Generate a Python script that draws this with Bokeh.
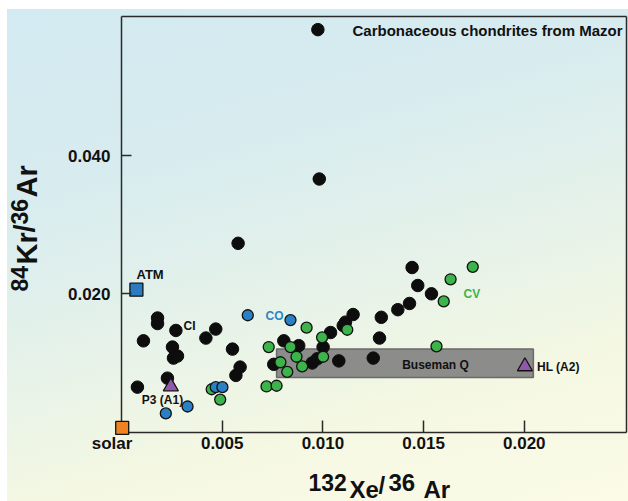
import math
from bokeh.plotting import figure
from bokeh.models import Label, FixedTicker, NumeralTickFormatter, LinearAxis
from bokeh.embed import file_html
from bokeh.resources import INLINE

# 132Xe/36Ar (x) and 84Kr/36Ar (y) for carbonaceous chondrites (Mazor et al.)
black_xe = [0.00975, 0.00982, 0.00579, 0.00179, 0.00179, 0.00270, 0.00468, 0.00419,
            0.00109, 0.00253, 0.00258, 0.00278, 0.00551, 0.00589, 0.00568, 0.00228,
            0.00079, 0.00806, 0.00880, 0.01001, 0.01038, 0.01101, 0.01112, 0.01150,
            0.01079, 0.00947, 0.00972, 0.00756, 0.01250, 0.01281, 0.01290, 0.01372,
            0.01430, 0.01443, 0.01471, 0.01539]
black_kr = [0.0582, 0.0366, 0.0273, 0.0165, 0.0157, 0.0147, 0.0149, 0.0136,
            0.0132, 0.0123, 0.0107, 0.0110, 0.0120, 0.0094, 0.0082, 0.0078,
            0.0065, 0.0132, 0.0125, 0.0123, 0.0144, 0.0154, 0.0159, 0.0170,
            0.0103, 0.0100, 0.0106, 0.0098, 0.0107, 0.0136, 0.0166, 0.0177,
            0.0186, 0.0238, 0.0212, 0.0200]

cv_xe = [0.00919, 0.01121, 0.00996, 0.00839, 0.00731, 0.00869, 0.01001, 0.00897,
         0.00789, 0.00823, 0.00720, 0.00770, 0.01564, 0.01744, 0.01634, 0.01600,
         0.00448, 0.00490]
cv_kr = [0.0151, 0.0148, 0.0137, 0.0123, 0.0123, 0.0109, 0.0109, 0.0095,
         0.0101, 0.0087, 0.0066, 0.0067, 0.0124, 0.0239, 0.0221, 0.0189,
         0.0062, 0.0047]

co_xe = [0.00627, 0.00839, 0.00468, 0.00501, 0.00328, 0.00220]
co_kr = [0.0169, 0.0162, 0.0065, 0.0065, 0.0037, 0.0027]

# reference components
atm_xe, atm_kr = [0.00074], [0.0206]
solar_xe, solar_kr = [0.000035], [0.0006]
p3_xe, p3_kr = [0.00245], [0.0066]
hl_xe, hl_kr = [0.02003], [0.0095]

# Busemann Q-gas field
q_xe = [0.0077, 0.02045]
q_kr = [0.0079, 0.0120]

x_ticks = [0.005, 0.010, 0.015, 0.020]
y_ticks = [0.020, 0.040]

# axis extent of the boxed plot area
X_MAX, Y_MAX = 0.025074, 0.060145

# canvas geometry: pixels per data unit and the pixel position of the origin
W, H = 628, 501
SX, SY = 20140.0, 6915.0
OX, OY = 121.0, 431.6

FONT = "Liberation Sans"
INK = "#2a2a2a"

p = figure(width=W, height=H,
           x_range=(-OX / SX, (W - OX) / SX), y_range=((OY - H) / SY, OY / SY),
           output_backend="svg", toolbar_location=None, min_border=0)
p.title.visible = False
p.border_fill_color = None
p.background_fill_color = None
p.outline_line_color = None
p.styles = {
    "background-color": "white",
    "background-image": "linear-gradient(165deg, #d2eaf1 0%, #d8ecef 30%, #e6f2e9 55%, #f5f8e2 78%, #fbfbe8 100%)",
    "background-repeat": "no-repeat",
    "background-position": "7px 9px",
    "background-size": "621px 492px",
}
p.grid.visible = False

xa, ya = p.xaxis[0], p.yaxis[0]
xa.fixed_location = 0
ya.fixed_location = 0
xa.bounds = (0, X_MAX)
ya.bounds = (0, Y_MAX)
for ax in (xa, ya):
    ax.axis_line_color = INK
    ax.axis_line_width = 1.5
    ax.major_tick_line_color = INK
    ax.major_tick_line_width = 1.5
    ax.major_tick_out = 0
    ax.minor_tick_line_color = None
    ax.major_label_text_font = FONT
    ax.major_label_text_font_style = "bold"
    ax.major_label_text_font_size = "17px"
    ax.major_label_text_color = "#111111"
    ax.formatter = NumeralTickFormatter(format="0.000")
xa.ticker = FixedTicker(ticks=x_ticks)
ya.ticker = FixedTicker(ticks=y_ticks)
xa.major_tick_in = 12
ya.major_tick_in = 10
xa.major_label_standoff = 5
ya.major_label_standoff = 11

# closing edges of the box: bare axes on top and right
top = LinearAxis(fixed_location=Y_MAX, bounds=(0, X_MAX), ticker=FixedTicker(ticks=[]),
                 axis_line_color=INK, axis_line_width=1.5, major_label_text_font_size="0px",
                 minor_tick_line_color=None, major_tick_line_color=None)
right = LinearAxis(fixed_location=X_MAX, bounds=(0, Y_MAX), ticker=FixedTicker(ticks=[]),
                   axis_line_color=INK, axis_line_width=1.5, major_label_text_font_size="0px",
                   minor_tick_line_color=None, major_tick_line_color=None)
p.add_layout(top, "above")
p.add_layout(right, "right")

# Q-gas box under the points
p.quad(left=[q_xe[0]], right=[q_xe[1]], bottom=[q_kr[0]], top=[q_kr[1]],
       fill_color="#8c8c8a", line_color="#6a6a6a", line_width=1.5)

p.scatter(black_xe, black_kr, size=12.5, fill_color="#0d0d0d", line_color="#0d0d0d")
p.scatter(cv_xe, cv_kr, size=11, fill_color="#3cb44b", line_color="#111111", line_width=1.3)
p.scatter(co_xe, co_kr, size=11, fill_color="#2a80c4", line_color="#111111", line_width=1.3)

p.scatter(atm_xe, atm_kr, marker="square", size=13, fill_color="#2a7cc0",
          line_color="#111111", line_width=1.3)
p.scatter(solar_xe, solar_kr, marker="square", size=13, fill_color="#f08222",
          line_color="#111111", line_width=1.3, level="overlay")
p.scatter(p3_xe + hl_xe, p3_kr + hl_kr, marker="triangle", size=15,
          fill_color="#9158aa", line_color="#111111", line_width=1.3)


def dx(px):
    return (px - OX) / SX


def dy(py):
    return (OY - py) / SY


def add_text(text, px, py, size, color="#111111", align="left", angle=0):
    p.add_layout(Label(x=dx(px), y=dy(py), text=text, text_font=FONT, text_font_style="bold",
                       text_font_size=size, text_color=color, text_align=align,
                       text_baseline="middle", angle=angle))


add_text("Carbonaceous chondrites from Mazor", 352, 30, "15px")
add_text("ATM", 136, 274, "13px")
add_text("CI", 183, 325, "12px")
add_text("CO", 265, 315, "12px", color="#2a86c8")
add_text("CV", 463, 293.5, "12px", color="#3cb44b")
add_text("P3 (A1)", 162, 399.5, "12px", align="center")
add_text("HL (A2)", 536.5, 366.5, "12px")
add_text("Buseman Q", 435, 364.5, "12px", align="center")
add_text("solar", 111.5, 443, "17px", align="center")

# x-axis title with raised mass numbers
add_text("132", 308, 481.5, "23px")
add_text("Xe", 349, 488.5, "24px")
add_text("/", 378, 484.5, "24px")
add_text("36", 388, 481.5, "24px")
add_text("Ar", 423, 488.5, "24px")

# y-axis title, rotated to read upward
up = math.pi / 2
add_text("84", 18.5, 291, "23px", angle=up)
add_text("Kr", 26.5, 264, "29px", angle=up)
add_text("/", 24.5, 232, "29px", angle=up)
add_text("36", 18.5, 224, "23px", angle=up)
add_text("Ar", 26.5, 197, "29px", angle=up)

open("out.html", "w").write(file_html(p, INLINE))
